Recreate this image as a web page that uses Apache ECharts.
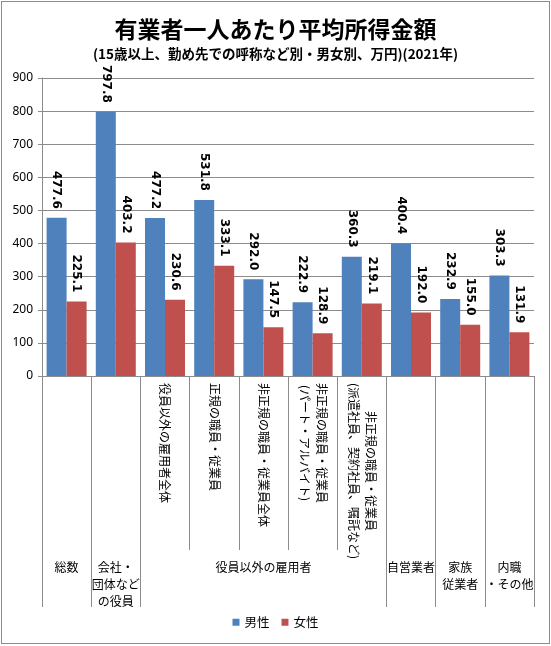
<!DOCTYPE html>
<html><head><meta charset="utf-8">
<script src="https://cdn.jsdelivr.net/npm/echarts@6/dist/echarts.min.js"></script>
<style>
html,body{margin:0;padding:0;background:#fff;}
#c{width:551px;height:646px;position:absolute;left:0;top:0;}
#b{position:absolute;left:1px;top:1px;width:547px;height:641px;border:1px solid #8c8c8c;pointer-events:none;}
</style></head>
<body><div id="c"></div><div id="b"></div>
<script>
const lvl1Labels = ['', '', '役員以外の雇用者全体', '正規の職員・従業員', '非正規の職員・従業員全体',
  '非正規の職員・従業員\n(パート・アルバイト)', '非正規の職員・従業員\n(派遣社員、契約社員、嘱託など)', '', '', ''];
const lvl2Labels = ['総数', '会社・\n団体など\nの役員', '', '', '役員以外の雇用者', '', '', '自営業者', '家族\n従業者', '内職\n・その他'];
const groupStarts = [0, 1, 2, 7, 8, 9];
const seriesNames = ['男性', '女性'];
const male = [477.6, 797.8, 477.2, 531.8, 292.0, 222.9, 360.3, 400.4, 232.9, 303.3];
const female = [225.1, 403.2, 230.6, 333.1, 147.5, 128.9, 219.1, 192.0, 155.0, 131.9];
const yTicks = { min: 0, max: 900, interval: 100 };

const chart = echarts.init(document.getElementById('c'), null, { renderer: 'canvas' });
const jp = '"Noto Sans CJK JP", "Noto Sans", sans-serif';
const gray = '#8c8c8c';
const barLabel = {
  show: true, position: 'top', rotate: -90, align: 'right', verticalAlign: 'middle',
  distance: 9, color: '#000', fontFamily: '"DejaVu Sans", sans-serif', fontWeight: 'bold', fontSize: 12,
  formatter: p => p.value.toFixed(1)
};
chart.setOption({
  animation: false,
  backgroundColor: '#fff',
  title: [
    { text: '有業者一人あたり平均所得金額', left: 'center', top: 13,
      textStyle: { fontFamily: jp, fontWeight: 'bold', fontSize: 23, color: '#000' } },
    { text: '(15歳以上、勤め先での呼称など別・男女別、万円)(2021年)', left: 'center', top: 42,
      textStyle: { fontFamily: jp, fontWeight: 'bold', fontSize: 13.5, color: '#000' } }
  ],
  legend: {
    data: seriesNames, top: 611, left: 'center', itemWidth: 7, itemHeight: 7, itemGap: 12,
    icon: 'rect', textStyle: { fontFamily: jp, fontSize: 12.5, color: '#000' }
  },
  grid: { left: 42, right: 17, top: 78, bottom: 270, containLabel: false },
  xAxis: [
    { type: 'category', data: lvl1Labels, position: 'bottom',
      axisLine: { show: true, lineStyle: { color: gray } },
      axisTick: { show: true, length: 174, lineStyle: { color: gray } },
      axisLabel: { interval: 0, rotate: -90, margin: 7, fontFamily: jp, fontSize: 12, color: '#000',
        lineHeight: 17, align: 'left', verticalAlign: 'middle',
        formatter: v => v ? v.split('\n').map(s => '{c|' + s + '}').join('\n') : '',
        rich: { c: { align: 'center', fontFamily: jp, fontSize: 12, color: '#000', lineHeight: 17 } } }
    },
    { type: 'category', data: lvl2Labels, position: 'bottom',
      axisLine: { show: false },
      axisTick: { show: true, length: 231, interval: (i) => groupStarts.indexOf(i) >= 0, lineStyle: { color: gray } },
      axisLabel: { interval: 0, margin: 183, fontFamily: jp, fontSize: 12, color: '#000', lineHeight: 17 }
    }
  ],
  yAxis: {
    type: 'value', min: yTicks.min, max: yTicks.max, interval: yTicks.interval,
    axisLine: { show: true, lineStyle: { color: gray } },
    axisTick: { show: true, length: 4, lineStyle: { color: gray } },
    axisLabel: { margin: 9, fontFamily: '"Noto Sans", sans-serif', fontSize: 12, color: '#000' },
    splitLine: { show: true, lineStyle: { color: gray } }
  },
  series: [
    { name: seriesNames[0], type: 'bar', xAxisIndex: 0, data: male, barWidth: 20, barGap: '0%',
      itemStyle: { color: '#4F81BD' }, label: barLabel },
    { name: seriesNames[1], type: 'bar', xAxisIndex: 0, data: female, barWidth: 20, barGap: '0%',
      itemStyle: { color: '#C0504D' }, label: barLabel }
  ]
});
</script></body></html>
